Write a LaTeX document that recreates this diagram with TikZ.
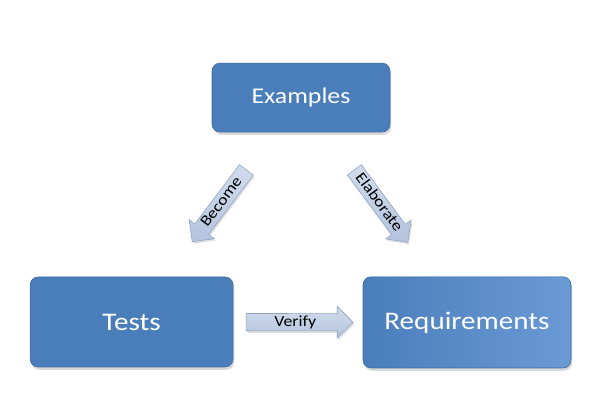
\documentclass[tikz,border=0pt]{standalone}
\usepackage{fontspec}
\setmainfont{Carlito}[FakeStretch=1.15]
\usetikzlibrary{shapes.arrows,shadows}

\definecolor{boxblue}{HTML}{4A7EBB}
\definecolor{boxlight}{HTML}{6A9AD4}
\definecolor{arrowfill}{HTML}{B4C4DF}
\definecolor{arrowedge}{HTML}{8FA2C4}

\begin{document}
\begin{tikzpicture}
		[main node/.style={shape=rectangle,rounded corners=0.2cm,fill=boxblue,draw=boxblue!85!black,text=white,
			drop shadow={opacity=.3,shadow xshift=.3mm,shadow yshift=-.7mm}},
		flow arrow/.style={shape=single arrow,sloped,pos=.467,draw=arrowedge,top color=arrowfill!60!white,bottom color=arrowfill,
			minimum height=2.25cm,single arrow head extend=.18cm,inner xsep=2pt,inner ysep=.7pt,
			text height=8pt,text depth=2.5pt,font=\fontsize{11}{13}\selectfont,
			drop shadow={opacity=.25,shadow xshift=.3mm,shadow yshift=-.5mm}}]
		\useasboundingbox (0,0) rectangle (15,10);
		
		\node [main node][minimum width=4.45cm,minimum height=1.725cm,font=\fontsize{16}{18}\selectfont] (1) at (7.525,7.56) {Examples};
		\node [main node][minimum width=5.075cm,minimum height=2.25cm,font=\fontsize{18}{20}\selectfont] (2) at (3.29,1.95) {Tests};
		\node [main node][left color=boxblue,right color=boxlight,minimum width=5.2cm,minimum height=2.28cm,font=\fontsize{18}{20}\selectfont] (3) at (11.675,1.94) {Requirements};
		
		\path[]
		(1.center) -- node[flow arrow,shape border rotate=180] {Become} (2.center)
		(1.center) -- node[flow arrow] {Elaborate} (3.center)
		(2.center) -- node[flow arrow,pos=.488,minimum height=2.675cm] {Verify} (3.center)
		;
		
\end{tikzpicture}
\end{document}
